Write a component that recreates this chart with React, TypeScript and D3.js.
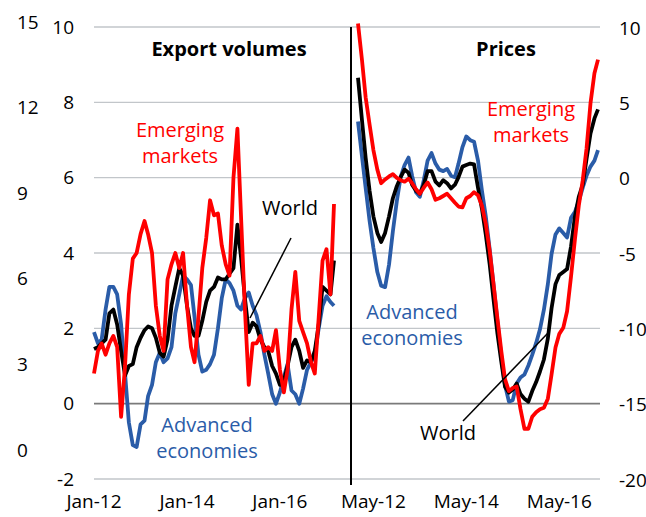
import React from 'react';
import * as d3 from 'd3';

// monthly categories, Jan-12 .. Mar-17 (same span in both panels)
const months = d3.timeMonth.range(new Date(2012, 0, 1), new Date(2017, 3, 1));

// Export volumes (left axis, -2..10)
const volEmerging = [0.8, 1.4, 1.6, 1.3, 1.6, 1.8, 1.5, -0.35, 1.0, 2.9, 3.85, 4.0, 4.5, 4.85, 4.5, 4.0, 2.6, 1.8, 1.4, 3.3,
  3.7, 4.0, 3.6, 4.0, 2.6, 1.5, 1.1, 2.3, 3.6, 4.4, 5.4, 5.0, 5.05, 4.2, 3.7, 3.4, 6.0, 7.3, 5.0, 2.5,
  0.5, 1.6, 1.6, 1.8, 1.4, 1.5, 1.4, 1.95, 0.9, 0.3, 0.9, 2.5, 3.5, 2.2, 1.9, 1.6, 1.1, 0.8, 2.3, 3.8,
  4.1, 2.9, 5.3];
const volWorld = [1.45, 1.5, 1.6, 1.7, 2.4, 2.5, 2.1, 1.4, 0.75, 1.0, 1.05, 1.5, 1.75, 1.95, 2.05, 2.0, 1.75, 1.35, 1.25, 1.7,
  2.6, 3.1, 3.6, 3.4, 2.6, 2.0, 1.8, 1.8, 2.2, 2.7, 3.0, 3.1, 3.35, 3.3, 3.3, 3.45, 3.6, 4.75, 3.9, 2.8,
  1.9, 2.15, 2.05, 1.7, 1.5, 1.4, 1.0, 0.8, 0.5, 0.6, 1.0, 1.5, 1.7, 1.4, 0.95, 1.15, 1.1, 1.4, 2.1, 3.1,
  3.0, 2.9, 3.8];
const volAdvanced = [1.9, 1.6, 1.7, 2.5, 3.1, 3.1, 2.9, 2.1, 0.8, -0.5, -1.1, -1.15, -0.55, -0.45, 0.2, 0.5, 1.1, 1.35, 1.1, 1.2,
  1.5, 2.4, 2.9, 3.4, 3.3, 3.15, 2.3, 1.3, 0.85, 0.9, 1.05, 1.3, 2.0, 2.8, 3.3, 3.2, 3.0, 2.6, 2.5, 2.8,
  2.95, 2.6, 2.35, 1.9, 1.3, 0.8, 0.25, 0.0, 0.3, 0.7, 1.05, 0.35, 0.25, 0.0, 0.4, 0.9, 1.1, 1.3, 2.0, 2.6,
  2.85, 2.7, 2.6];

// Prices (right axis, -20..10)
const priceEmerging = [10.3, 7.9, 5.4, 3.6, 1.9, 0.6, -0.3, -0.05, 0.15, 0.3, 0.05, -0.1, -0.2, 0.0, -0.3, -0.7, -1.0, -0.6, -0.25, -0.7,
  -1.4, -1.3, -1.15, -1.0, -1.3, -1.6, -1.85, -1.9, -1.3, -1.15, -0.9, -1.1, -1.8, -3.0, -4.8, -7.0, -9.3, -11.5, -13.3, -14.1,
  -13.9, -13.8, -15.3, -16.6, -16.6, -15.8, -15.5, -15.3, -15.2, -14.6, -13.0, -11.2, -10.3, -9.9, -8.8, -6.5, -4.0, -1.8, -0.1, 2.0,
  5.0, 7.0, 7.9];
const priceWorld = [6.7, 3.9, 1.4, -0.8, -2.5, -3.6, -4.2, -3.6, -2.5, -1.3, -0.5, 0.1, 0.6, 0.4, -0.4, -0.8, -1.0, -0.4, 0.5, 0.5,
  -0.2, -0.45, -0.1, -0.3, -0.65, -0.4, 0.1, 0.8, 0.9, 1.0, 0.95, -0.6, -2.0, -3.7, -5.7, -8.0, -10.3, -12.2, -13.8, -14.2,
  -14.0, -13.6, -14.3, -14.6, -14.8, -14.1, -13.5, -12.8, -12.0, -10.6, -8.6, -7.0, -6.4, -6.2, -6.0, -4.5, -2.5, -1.2, -0.4, 1.3,
  3.0, 4.0, 4.6];
const priceAdvanced = [3.8, 1.5, -0.6, -2.8, -4.6, -6.2, -7.1, -7.2, -5.7, -3.5, -1.5, 0.1, 0.9, 1.4, 0.2, -0.9, -1.2, -0.1, 1.2, 1.7,
  1.0, 0.6, 0.5, 0.65, 0.2, 0.1, 1.0, 2.1, 2.8, 2.55, 2.45, 1.2, -0.8, -2.5, -4.7, -7.0, -9.5, -11.9, -13.7, -14.8,
  -14.7, -13.6, -13.2, -13.0, -12.4, -11.7, -10.9, -10.0, -8.7, -7.0, -5.0, -3.7, -3.3, -3.6, -3.9, -2.6, -2.2, -1.5, -0.6, 0.2,
  0.8, 1.2, 1.9];

// axis ticks
const leftTicks = [-2, 0, 2, 4, 6, 8, 10];
const outerTicks = [0, 3, 6, 9, 12, 15];
const rightTicks = [-20, -15, -10, -5, 0, 5, 10];
const leftDates = [new Date(2012, 0, 1), new Date(2014, 0, 1), new Date(2016, 0, 1)];
const rightDates = [new Date(2012, 4, 1), new Date(2014, 4, 1), new Date(2016, 4, 1)];

const RED = '#ff0000';
const BLUE = '#2a5ca8';
const BLACK = '#000000';
const FONT = '"Open Sans", sans-serif';

// two-line label, tspans so lines never collide
function Label({ x, y, lines, color }: { x: number; y: number; lines: string[]; color: string }) {
  return (
    <text x={x} y={y} fontSize={20} fill={color} textAnchor="middle">
      {lines.map((s, i) => (
        <tspan key={s} x={x} dy={i === 0 ? '0.35em' : 26}>{s}</tspan>
      ))}
    </text>
  );
}

export default function App() {
  const width = 646;
  const height = 517;

  const yLeft = d3.scaleLinear().domain([-2, 10]).range([479, 27]);
  const yRight = d3.scaleLinear().domain([-20, 10]).range([480, 28]);
  const yOuter = d3.scaleLinear().domain([0, 15]).range([450, 22]);
  const dom = [months[0], months[months.length - 1]];
  const xLeft = d3.scaleTime().domain(dom).range([94, 334]);
  const xRight = d3.scaleTime().domain(dom).range([358, 598]);

  const lineL = d3.line<number>().x((d, i) => xLeft(months[i])).y(d => yLeft(d));
  const lineR = d3.line<number>().x((d, i) => xRight(months[i])).y(d => yRight(d));
  const fmtL = d3.timeFormat('%b-%y');

  const seriesStyle = { fill: 'none', strokeWidth: 3.8, strokeLinejoin: 'round' as const };

  return (
    <div style={{ position: 'fixed', left: 0, top: 0 }}>
      <svg width={width} height={height} style={{ display: 'block', background: '#fff' }} fontFamily={FONT}>
        {/* gridlines */}
        {leftTicks.map(t => (
          <line key={'g' + t} x1={94} x2={600} y1={yLeft(t)} y2={yLeft(t)}
            stroke={t === 0 ? '#7a7a7a' : '#c2c6ca'} strokeWidth={t === 0 ? 1.6 : 1.3} />
        ))}

        {/* outer left axis */}
        {outerTicks.map(t => (
          <text key={'o' + t} x={17} y={yOuter(t)} dy="0.35em" fontSize={19}>{t}</text>
        ))}
        {/* inner left axis */}
        {leftTicks.map(t => (
          <text key={'l' + t} x={74} y={yLeft(t)} dy="0.35em" fontSize={19} textAnchor="end">{t}</text>
        ))}
        {/* right axis */}
        {rightTicks.map(t => (
          <text key={'r' + t} x={619} y={yRight(t)} dy="0.35em" fontSize={19}>{t}</text>
        ))}
        {/* x labels */}
        {leftDates.map(d => (
          <text key={'xl' + d.getTime()} x={xLeft(d)} y={501} dy="0.35em" fontSize={19} textAnchor="middle">{fmtL(d)}</text>
        ))}
        {rightDates.map(d => (
          <text key={'xr' + d.getTime()} x={xRight(d)} y={501} dy="0.35em" fontSize={19} textAnchor="middle">{fmtL(d)}</text>
        ))}

        {/* panel divider */}
        <line x1={351} x2={351} y1={27} y2={485} stroke="#000" strokeWidth={2} />

        {/* left panel: export volumes */}
        <path d={lineL(volAdvanced) || ''} stroke={BLUE} {...seriesStyle} />
        <path d={lineL(volWorld) || ''} stroke={BLACK} {...seriesStyle} />
        <path d={lineL(volEmerging) || ''} stroke={RED} {...seriesStyle} />

        {/* right panel: prices */}
        <path d={lineR(priceAdvanced) || ''} stroke={BLUE} {...seriesStyle} />
        <path d={lineR(priceWorld) || ''} stroke={BLACK} {...seriesStyle} />
        <path d={lineR(priceEmerging) || ''} stroke={RED} {...seriesStyle} />

        {/* titles */}
        <text x={229} y={49} dy="0.35em" fontSize={20} fontWeight="bold" textAnchor="middle">Export volumes</text>
        <text x={506} y={49} dy="0.35em" fontSize={20} fontWeight="bold" textAnchor="middle">Prices</text>

        {/* annotations, left */}
        <Label x={180} y={130} lines={['Emerging', 'markets']} color={RED} />
        <Label x={290} y={208} lines={['World']} color={BLACK} />
        <line x1={291} y1={238} x2={250} y2={318} stroke="#000" strokeWidth={1.5} />
        <Label x={207} y={425} lines={['Advanced', 'economies']} color={BLUE} />

        {/* annotations, right */}
        <Label x={531} y={109} lines={['Emerging', 'markets']} color={RED} />
        <Label x={412} y={312} lines={['Advanced', 'economies']} color={BLUE} />
        <Label x={448} y={433} lines={['World']} color={BLACK} />
        <line x1={463} y1={421} x2={548} y2={333} stroke="#000" strokeWidth={1.5} />
      </svg>
    </div>
  );
}
